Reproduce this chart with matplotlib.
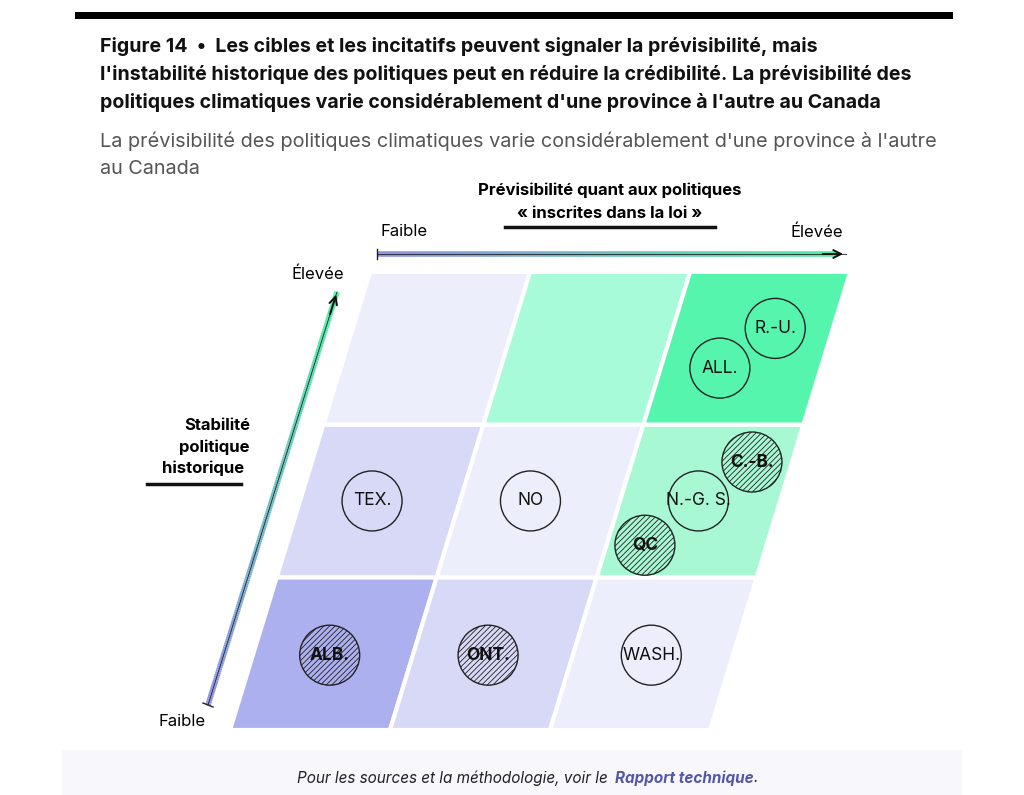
import matplotlib
matplotlib.use("Agg")
import matplotlib.pyplot as plt
import numpy as np
from matplotlib.patches import Polygon, Circle
from matplotlib.colors import LinearSegmentedColormap

plt.rcParams['font.family'] = ['Inter', 'DejaVu Sans']
plt.rcParams['hatch.color'] = '#555555'
plt.rcParams['hatch.linewidth'] = 0.6

# grid cell colours, rows bottom(0) -> top(2), cols left -> right
cell_colors = [["#adb0ef", "#d8d9f6", "#eceefb"],
               ["#d8d9f6", "#eceefb", "#a8f8d4"],
               ["#eceefb", "#a7fbd8", "#55f5ae"]]
# labels: (text, col position, row position, hatched/bold)
labels = [("ALB.", 0.48, 0.49, True), ("ONT.", 1.47, 0.49, True), ("WASH.", 2.49, 0.49, False),
          ("TEX.", 0.45, 1.5, False), ("NO", 1.44, 1.5, False), ("N.-G. S.", 2.49, 1.5, False),
          ("QC", 2.24, 1.21, True), ("C.-B.", 2.75, 1.755, True),
          ("ALL.", 2.37, 2.37, False), ("R.-U.", 2.64, 2.63, False)]

fig = plt.figure(figsize=(10.24, 7.95), dpi=100)
ax = fig.add_axes([0, 0, 1, 1])
ax.set_xlim(0, 1024); ax.set_ylim(795, 0); ax.axis('off')

x0, y0 = 230, 730
cw, rh, sk = 160, 152.7, 46.7

def pt(c, r):
    return (x0 + c * cw + r * sk, y0 - r * rh)

for r in range(3):
    for c in range(3):
        pts = [pt(c, r), pt(c + 1, r), pt(c + 1, r + 1), pt(c, r + 1)]
        ax.add_patch(Polygon(pts, closed=True, fc=cell_colors[r][c], ec='white', lw=3))

for txt, c, r, h in labels:
    x, y = pt(c, r)
    ax.add_patch(Circle((x, y), 30, fc='none', ec='#222222', lw=1,
                        hatch='//////' if h else None))
    ax.text(x, y, txt, ha='center', va='center', fontsize=12.5,
            fontweight='bold' if h else 'normal', color='#111111')

cmap = LinearSegmentedColormap.from_list('g', ['#8e8fe6', '#4bef9f'])
n = 200
xs = np.linspace(377, 838, n + 1)
for i in range(n):
    ax.plot(xs[i:i + 2], [254, 254], color=cmap(i / n), lw=4, solid_capstyle='butt')
ax.plot([377, 377], [249, 259], color='#222222', lw=1)
ax.plot([377, 846], [254, 254], color='#222222', lw=0.6)
ax.annotate('', xy=(846, 254), xytext=(820, 254),
            arrowprops=dict(arrowstyle='->', color='#111111', lw=1.4, mutation_scale=14))
p0, p1 = np.array([208, 705]), np.array([337, 292])
for i in range(n):
    a = p0 + (p1 - p0) * i / n; b = p0 + (p1 - p0) * (i + 1) / n
    ax.plot([a[0], b[0]], [a[1], b[1]], color=cmap(i / n), lw=4, solid_capstyle='butt')
ax.plot([p0[0], p1[0]], [p0[1], p1[1]], color='#222222', lw=0.6)
ax.plot([203, 213], [703, 707], color='#222222', lw=1)
ax.annotate('', xy=tuple(p1), xytext=tuple(p1 + (p0 - p1) * 0.06),
            arrowprops=dict(arrowstyle='->', color='#111111', lw=1.4, mutation_scale=14))

ax.text(610, 190, "Prévisibilité quant aux politiques", ha='center', va='center', fontsize=12, fontweight='bold')
ax.text(610, 213, "« inscrites dans la loi »", ha='center', va='center', fontsize=12, fontweight='bold')
ax.plot([505, 715], [227, 227], color='#111111', lw=2.5)
ax.text(404, 232, "Faible", ha='center', va='center', fontsize=12)
ax.text(817, 232, "Élevée", ha='center', va='center', fontsize=12)
ax.text(318, 274, "Élevée", ha='center', va='center', fontsize=12)
ax.text(182, 722, "Faible", ha='center', va='center', fontsize=12)
ax.text(250, 425, "Stabilité", ha='right', va='center', fontsize=12, fontweight='bold')
ax.text(250, 447, "politique", ha='right', va='center', fontsize=12, fontweight='bold')
ax.text(244, 468, "historique", ha='right', va='center', fontsize=12, fontweight='bold')
ax.plot([147, 241], [484, 484], color='#111111', lw=2.5)

ax.add_patch(Polygon([(75, 12), (953, 12), (953, 19), (75, 19)], closed=True, fc='black', ec='none'))
title = ["Figure 14  •  Les cibles et les incitatifs peuvent signaler la prévisibilité, mais",
         "l'instabilité historique des politiques peut en réduire la crédibilité. La prévisibilité des",
         "politiques climatiques varie considérablement d'une province à l'autre au Canada"]
for i, t in enumerate(title):
    ax.text(100, 47 + 28 * i, t, ha='left', va='center', fontsize=14.1, fontweight='bold', color='#111111')
ax.text(100, 141, "La prévisibilité des politiques climatiques varie considérablement d'une province à l'autre",
        ha='left', va='center', fontsize=14.3, color='#555555')
ax.text(100, 169, "au Canada", ha='left', va='center', fontsize=14.3, color='#555555')

ax.add_patch(Polygon([(62, 750), (962, 750), (962, 795), (62, 795)], closed=True, fc='#f8f8fc', ec='none'))
t1 = ax.text(297, 778, "Pour les sources et la méthodologie, voir le ", ha='left', va='center',
             fontsize=11, style='italic', color='#222222')
fig.canvas.draw()
r = fig.canvas.get_renderer()
e = t1.get_window_extent(r)
t2 = ax.annotate("Rapport technique", xy=(e.x1 + 3, 0), xycoords=('figure pixels', 'data'),
                 xytext=(0, 778), textcoords=('offset pixels', 'data'), ha='left', va='center',
                 fontsize=11, style='italic', fontweight='bold', color='#5457a8')
fig.canvas.draw()
e2 = t2.get_window_extent(r)
ax.annotate(".", xy=(e2.x1, 0), xycoords=('figure pixels', 'data'),
            xytext=(0, 778), textcoords=('offset pixels', 'data'), ha='left', va='center',
            fontsize=11, style='italic', color='#222222')

fig.savefig("out.png", dpi=100)
